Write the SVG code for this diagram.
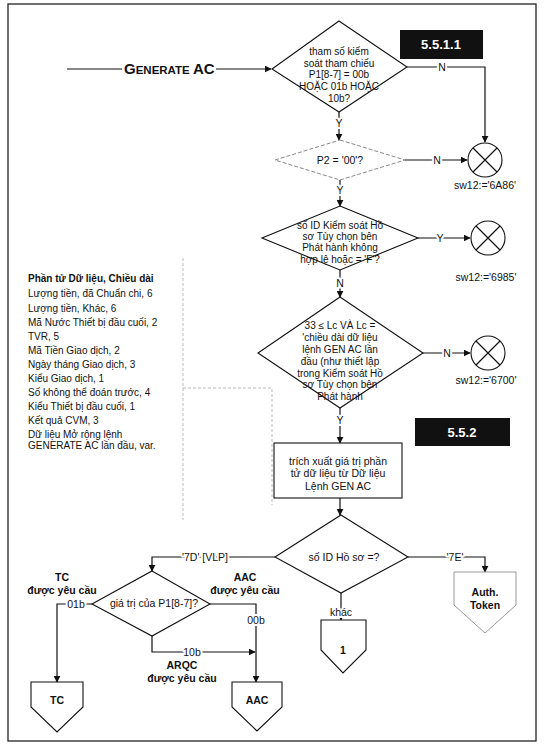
<svg xmlns="http://www.w3.org/2000/svg" width="547" height="745" viewBox="0 0 547 745">
<style>
text{font-family:"Liberation Sans",Arial,sans-serif;fill:#111}
.t{font-size:10.5px;text-anchor:middle}
.td{font-size:10px;text-anchor:middle}
.s{font-size:10px}
.b{font-weight:bold}
.lbl{font-size:10.5px;text-anchor:middle;stroke:#fff;stroke-width:4;paint-order:stroke;stroke-linejoin:round}
.shape{fill:#fff;stroke:#111;stroke-width:1.1}
.gray{fill:#fff;stroke:#999;stroke-width:1}
.ln{fill:none;stroke:#111;stroke-width:1.2}
.dash{fill:none;stroke:#aaa;stroke-width:0.8;stroke-dasharray:3 2}
.tag{fill:#111}
.tagt{font-size:13px;font-weight:bold;fill:#fff;text-anchor:middle}
</style>
<defs>
<marker id="arr" viewBox="0 0 10 10" refX="9" refY="5" markerWidth="7" markerHeight="7" orient="auto" markerUnits="userSpaceOnUse">
<path d="M0,0 L10,5 L0,10 Z" fill="#111"/>
</marker>
</defs>
<rect x="8" y="4" width="528" height="737" fill="none" stroke="#222" stroke-width="1.3"/>

<g id="connectors">
<path class="ln" d="M67,69 H122"/>
<path class="ln" d="M216,69 H271" marker-end="url(#arr)"/>
<path class="ln" d="M339,112 V140" marker-end="url(#arr)"/>
<text class="lbl" x="339" y="127">Y</text>
<path class="ln" d="M407,67 H485 V142" marker-end="url(#arr)"/>
<text class="lbl" x="442" y="71">N</text>
<path class="ln" d="M405,160 H467" marker-end="url(#arr)"/>
<text class="lbl" x="437" y="164">N</text>
<path class="ln" d="M340,180 V206" marker-end="url(#arr)"/>
<text class="lbl" x="340" y="194">Y</text>
<path class="ln" d="M418,238 H470" marker-end="url(#arr)"/>
<text class="lbl" x="440" y="242">Y</text>
<path class="ln" d="M340,270 V297" marker-end="url(#arr)"/>
<text class="lbl" x="340" y="287">N</text>
<path class="ln" d="M423,353 H470" marker-end="url(#arr)"/>
<text class="lbl" x="447" y="357">N</text>
<path class="ln" d="M340,408 V443" marker-end="url(#arr)"/>
<text class="lbl" x="340" y="424">Y</text>
<path class="ln" d="M340,498 V515" marker-end="url(#arr)"/>
<path class="ln" d="M408,557 H485 V572" marker-end="url(#arr)"/>
<text class="lbl" x="455" y="561">'7E'</text>
<path class="ln" d="M341,593 V620" marker-end="url(#arr)"/>
<text class="lbl" x="341" y="616">khác</text>
<path class="ln" d="M275,557 H152 V571" marker-end="url(#arr)"/>
<text class="lbl" x="205" y="561">'7D' [VLP]</text>
<path class="ln" d="M92,604 H57 V682" marker-end="url(#arr)"/>
<text class="lbl" x="76" y="608">01b</text>
<path class="ln" d="M210,604 H256 V682" marker-end="url(#arr)"/>
<text class="lbl" x="256" y="624">00b</text>
<path class="ln" d="M152,636 V652 H255" marker-end="url(#arr)"/>
<text class="lbl" x="192" y="656">10b</text>
<path class="dash" d="M183,258 V520"/>
<path class="dash" d="M183,388 H272 V505"/>
</g>

<g id="start">
<text x="124" y="74" class="b"><tspan font-size="15">G</tspan><tspan font-size="11.5">ENERATE </tspan><tspan font-size="15">AC</tspan></text>
</g>

<g id="tag1"><rect class="tag" x="400" y="30" width="83" height="29"/><text class="tagt" x="441" y="49">5.5.1.1</text></g>
<g id="tag2"><rect class="tag" x="415" y="418" width="95" height="28"/><text class="tagt" x="462" y="437">5.5.2</text></g>

<g id="d1">
<path class="shape" d="M339,21 L407,67 L339,112 L272,69 Z"/>
<text class="td" x="339" y="55">tham số kiểm</text>
<text class="td" x="339" y="66.5">soát tham chiếu</text>
<text class="td" x="339" y="78">P1[8-7] = 00b</text>
<text class="td" x="339" y="89.5">HOẶC 01b HOẶC</text>
<text class="td" x="339" y="102">10b?</text>
</g>

<g id="d2">
<path d="M340,140 L405,160 L340,180 L275,160 Z" fill="#fff" stroke="#888" stroke-width="1" stroke-dasharray="4 2"/>
<text class="t" x="340" y="164">P2 = '00'?</text>
</g>

<g id="d3">
<path class="shape" d="M340,206 L418,238 L340,270 L262,238 Z"/>
<text class="td" x="340" y="229">số ID Kiểm soát Hồ</text>
<text class="td" x="340" y="240">sơ Tùy chọn bên</text>
<text class="td" x="340" y="251">Phát hành không</text>
<text class="td" x="340" y="262.5">hợp lệ hoặc = 'F'?</text>
</g>

<g id="d4">
<path class="shape" d="M340,297 L423,353 L340,408 L258,353 Z"/>
<text class="td" x="340" y="329">33 ≤ Lc VÀ Lc =</text>
<text class="td" x="340" y="341">'chiều dài dữ liệu</text>
<text class="td" x="340" y="353">lệnh GEN AC lần</text>
<text class="td" x="340" y="365">đầu (như thiết lập</text>
<text class="td" x="340" y="376.5">trong Kiểm soát Hồ</text>
<text class="td" x="340" y="388">sơ Tùy chọn bên</text>
<text class="td" x="340" y="399.5">Phát hành</text>
</g>

<g id="c1">
<circle class="shape" cx="485" cy="160" r="17"/>
<path class="ln" d="M473,148 L497,172 M497,148 L473,172" stroke-width="1"/>
<text class="t" x="485" y="189">sw12:='6A86'</text>
</g>
<g id="c2">
<circle class="shape" cx="488" cy="238" r="17"/>
<path class="ln" d="M476,226 L500,250 M500,226 L476,250" stroke-width="1"/>
<text class="t" x="486" y="281">sw12:='6985'</text>
</g>
<g id="c3">
<circle class="shape" cx="488" cy="353" r="17"/>
<path class="ln" d="M476,341 L500,365 M500,341 L476,365" stroke-width="1"/>
<text class="t" x="486" y="384">sw12:='6700'</text>
</g>

<g id="list">
<text class="s b" x="28" y="282">Phần tử Dữ liệu, Chiều dài</text>
<text class="s" x="28" y="297">Lượng tiền, đã Chuẩn chi, 6</text>
<text class="s" x="28" y="312">Lượng tiền, Khác, 6</text>
<text class="s" x="28" y="326">Mã Nước Thiết bị đầu cuối, 2</text>
<text class="s" x="28" y="340">TVR, 5</text>
<text class="s" x="28" y="354">Mã Tiền Giao dịch, 2</text>
<text class="s" x="28" y="368">Ngày tháng Giao dịch, 3</text>
<text class="s" x="28" y="382">Kiểu Giao dịch, 1</text>
<text class="s" x="28" y="396">Số không thể đoán trước, 4</text>
<text class="s" x="28" y="410">Kiểu Thiết bị đầu cuối, 1</text>
<text class="s" x="28" y="424">Kết quả CVM, 3</text>
<text class="s" x="28" y="438">Dữ liệu Mở rộng lệnh</text>
<text class="s" x="28" y="449">GENERATE AC lần đầu, var.</text>
</g>

<g id="extract">
<rect class="shape" x="274" y="443" width="128" height="55"/>
<text class="t" x="338" y="465" font-size="12">trích xuất giá trị phần</text>
<text class="t" x="338" y="477" font-size="12">tử dữ liệu từ Dữ liệu</text>
<text class="t" x="338" y="490" font-size="12">Lệnh GEN AC</text>
</g>

<g id="d5">
<path class="shape" d="M341,515 L408,557 L341,593 L275,557 Z"/>
<text class="t" x="344" y="561">số ID Hồ sơ =?</text>
</g>

<g id="d6">
<path class="shape" d="M152,571 L210,604 L152,636 L92,604 Z"/>
<text class="t" x="154" y="607" font-size="8.5">giá trị của P1[8-7]?</text>
</g>

<g id="labels">
<text class="t b" x="62" y="581">TC</text>
<text class="t b" x="62" y="594">được yêu cầu</text>
<text class="t b" x="245" y="581">AAC</text>
<text class="t b" x="245" y="594">được yêu cầu</text>
<text class="t b" x="182" y="669">ARQC</text>
<text class="t b" x="182" y="682">được yêu cầu</text>
</g>

<g id="tc"><path class="shape" d="M31,682 H83 V707 L57,732 L31,707 Z"/><text class="t b" x="57" y="704" font-size="11">TC</text></g>
<g id="aac"><path class="shape" d="M232,682 H282 V707 L257,731 L232,707 Z"/><text class="t b" x="257" y="704" font-size="12">AAC</text></g>
<g id="p1"><path class="shape" d="M321,620 H366 V650 L343,673 L321,650 Z"/><text class="t b" x="343" y="654" font-size="11">1</text></g>
<g id="auth"><path class="gray" d="M454,572 H516 V605 L485,633 L454,605 Z"/><text class="t b" x="485" y="596" font-size="11.5">Auth.</text><text class="t b" x="485" y="609" font-size="11.5">Token</text></g>
</svg>
